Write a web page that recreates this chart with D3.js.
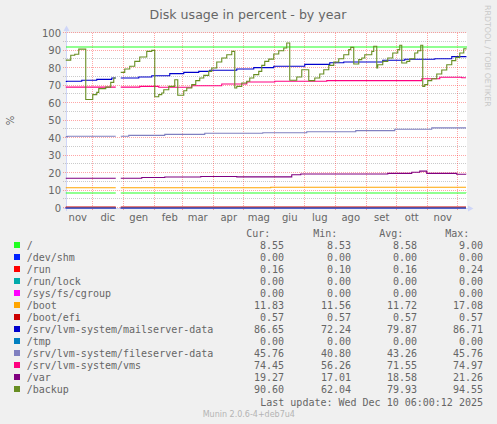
<!DOCTYPE html>
<html>
<head>
<meta charset="utf-8">
<script src="https://cdn.jsdelivr.net/npm/d3@7"></script>
<style>
  body { margin: 0; background: #f0f0f0; }
  svg { display: block; }
  text { fill: #666; }
</style>
</head>
<body>
<svg id="chart" width="497" height="424"></svg>
<script>
// graph window: 400 days ending at the last update
let rangeEnd = "2025-12-10 06:00"
let monthNames = ["gen", "feb", "mar", "apr", "mag", "giu", "lug", "ago", "set", "ott", "nov", "dic"]
let yTicks = [0, 10, 20, 30, 40, 50, 60, 70, 80, 90, 100]
let warningLevel = 92

let seriesNames = ["/", "/dev/shm", "/run", "/run/lock", "/sys/fs/cgroup", "/boot", "/boot/efi",
    "/srv/lvm-system/mailserver-data", "/tmp", "/srv/lvm-system/fileserver-data",
    "/srv/lvm-system/vms", "/var", "/backup"]
let curValues = [8.55, 0, 0.16, 0, 0, 11.83, 0.57, 86.65, 0, 45.76, 74.45, 19.27, 90.60]
let minValues = [8.53, 0, 0.10, 0, 0, 11.56, 0.57, 72.24, 0, 40.80, 56.26, 17.01, 62.04]
let avgValues = [8.58, 0, 0.16, 0, 0, 11.72, 0.57, 79.87, 0, 43.26, 71.55, 18.58, 79.93]
let maxValues = [9.00, 0, 0.24, 0, 0, 17.08, 0.57, 86.71, 0, 45.76, 74.97, 21.26, 94.55]

// munin palette
let seriesColors = ["#22ff22", "#0022ff", "#ff0000", "#00aaaa", "#ff00ff", "#ffa500", "#cc0000",
    "#0000cc", "#0080c0", "#8080c0", "#ff0080", "#800080", "#688e23"]

// [date, percent], null = no data
let rootPct = [["2024-11-05", 8.58], ["2024-12-25", 8.58], ["2024-12-26", null], ["2024-12-30", 8.56], ["2025-12-10 06:00", 8.55]]
let devShmPct = [["2024-11-05", 0], ["2024-12-25", 0], ["2024-12-26", null], ["2024-12-30", 0], ["2025-12-10 06:00", 0]]
let runPct = [["2024-11-05", 0.16], ["2024-12-25", 0.16], ["2024-12-26", null], ["2024-12-30", 0.16], ["2025-12-10 06:00", 0.16]]
let runLockPct = [["2024-11-05", 0], ["2024-12-25", 0], ["2024-12-26", null], ["2024-12-30", 0], ["2025-12-10 06:00", 0]]
let cgroupPct = [["2024-11-05", 0], ["2024-12-25", 0], ["2024-12-26", null], ["2024-12-30", 0], ["2025-12-10 06:00", 0]]
let bootPct = [["2024-11-05", 11.56], ["2024-12-25", 11.56], ["2024-12-26", null], ["2024-12-30", 11.56], ["2025-05-29", 11.83], ["2025-12-10 06:00", 11.83]]
let bootEfiPct = [["2024-11-05", 0.57], ["2024-12-25", 0.57], ["2024-12-26", null], ["2024-12-30", 0.57], ["2025-12-10 06:00", 0.57]]
let mailPct = [["2024-11-05", 72.3], ["2024-11-06", 72.4], ["2024-11-21", 73.0], ["2024-12-06", 73.5], ["2024-12-21", 74.3],
    ["2024-12-25", 74.3], ["2024-12-26", null], ["2024-12-30", 74.3], ["2025-01-17", 74.9], ["2025-01-30", 75.6],
    ["2025-02-17", 76.8], ["2025-03-03", 77.5], ["2025-03-18", 78.1], ["2025-03-29", 78.7], ["2025-04-25", 79.4],
    ["2025-05-12", 80.2], ["2025-06-01", 81.0], ["2025-07-02", 82.1], ["2025-07-27", 83.0], ["2025-08-10", 83.4],
    ["2025-09-18", 84.4], ["2025-10-10", 85.0], ["2025-11-09", 85.3], ["2025-11-26", 86.5], ["2025-12-10 06:00", 86.65]]
let tmpPct = [["2024-11-05", 0], ["2024-12-25", 0], ["2024-12-26", null], ["2024-12-30", 0], ["2025-12-10 06:00", 0]]
let filePct = [["2024-11-05", 40.8], ["2024-11-07", 41.0], ["2024-12-25", 41.0], ["2024-12-26", null], ["2024-12-30", 41.0],
    ["2025-01-07", 41.5], ["2025-02-12", 42.1], ["2025-03-24", 42.7], ["2025-05-21", 43.0], ["2025-07-04", 43.6],
    ["2025-08-22", 44.2], ["2025-09-30", 45.0], ["2025-11-06", 45.76], ["2025-12-10 06:00", 45.76]]
let vmsPct = [["2024-11-05", 69.1], ["2024-12-25", 69.1], ["2024-12-26", null], ["2024-12-30", 69.1], ["2025-01-18", 69.5],
    ["2025-02-06", 69.0], ["2025-03-11", 69.9], ["2025-04-10", 70.9], ["2025-05-05", 72.0], ["2025-06-02", 72.4],
    ["2025-07-24", 72.8], ["2025-10-27", 73.9], ["2025-11-14", 74.7], ["2025-12-06", 74.45], ["2025-12-10 06:00", 74.45]]
let varPct = [["2024-11-05", 17.0], ["2024-12-25", 17.0], ["2024-12-26", null], ["2024-12-30", 17.0], ["2025-01-20", 17.4],
    ["2025-02-12", 17.7], ["2025-03-20", 18.0], ["2025-04-25", 17.8], ["2025-06-19", 19.0], ["2025-06-28", 19.4],
    ["2025-09-23", 19.8], ["2025-10-17", 20.4], ["2025-10-25", 21.1], ["2025-11-01", 19.8], ["2025-12-01", 19.3],
    ["2025-12-10 06:00", 19.27]]
let backupPct = [["2024-11-05", 84.5], ["2024-11-10", 87.3], ["2024-11-14", 87.9], ["2024-11-18", 90.8], ["2024-11-25", 62.0],
    ["2024-12-02", 64.8], ["2024-12-06", 66.1], ["2024-12-08", 68.2], ["2024-12-15", 69.1], ["2024-12-20", 71.8],
    ["2024-12-23", 74.3], ["2024-12-25", 74.3], ["2024-12-26", null], ["2024-12-30", 77.5], ["2025-01-03", 79.4],
    ["2025-01-08", 81.0], ["2025-01-13", 83.8], ["2025-01-18", 86.3], ["2025-01-25", 89.5], ["2025-01-30", 90.1],
    ["2025-02-02", 63.6], ["2025-02-06", 64.8], ["2025-02-09", 65.7], ["2025-02-11", 67.6], ["2025-02-16", 69.5],
    ["2025-02-22", 73.3], ["2025-02-25", 64.4], ["2025-03-03", 67.0], ["2025-03-06", 68.6], ["2025-03-11", 70.5],
    ["2025-03-15", 72.8], ["2025-03-19", 74.3], ["2025-03-23", 75.8], ["2025-03-28", 78.1], ["2025-03-31", 80.0],
    ["2025-04-05", 83.4], ["2025-04-10", 85.7], ["2025-04-15", 87.6], ["2025-04-20", 89.5], ["2025-04-23", 68.6],
    ["2025-04-25", 69.5], ["2025-04-30", 71.4], ["2025-05-05", 72.4], ["2025-05-08", 74.3], ["2025-05-12", 76.2],
    ["2025-05-17", 78.1], ["2025-05-20", 81.5], ["2025-05-23", 83.8], ["2025-05-27", 85.1], ["2025-06-01", 88.0],
    ["2025-06-06", 89.9], ["2025-06-11", 91.4], ["2025-06-14", 94.3], ["2025-06-17", 73.0], ["2025-06-24", 74.9],
    ["2025-06-29", 79.0], ["2025-07-06", 72.8], ["2025-07-12", 74.3], ["2025-07-17", 76.6], ["2025-07-21", 79.0],
    ["2025-07-26", 81.5], ["2025-07-31", 83.4], ["2025-08-05", 85.3], ["2025-08-10", 87.6], ["2025-08-15", 90.5],
    ["2025-08-17", 91.8], ["2025-08-20", 82.3], ["2025-08-25", 84.8], ["2025-08-28", 85.7], ["2025-08-31", 87.6],
    ["2025-09-07", 89.5], ["2025-09-09", 92.4], ["2025-09-12", 80.0], ["2025-09-13", 81.9], ["2025-09-18", 83.8],
    ["2025-09-23", 85.7], ["2025-09-28", 88.6], ["2025-10-03", 90.5], ["2025-10-05", 93.0], ["2025-10-07", 82.9],
    ["2025-10-12", 83.8], ["2025-10-15", 85.3], ["2025-10-20", 88.6], ["2025-10-23", 89.9], ["2025-10-26", 93.0],
    ["2025-10-28", 69.5], ["2025-10-30", 70.5], ["2025-11-02", 72.8], ["2025-11-06", 73.9], ["2025-11-11", 76.6],
    ["2025-11-16", 78.9], ["2025-11-21", 81.9], ["2025-11-26", 84.2], ["2025-11-30", 86.1], ["2025-12-04", 88.6],
    ["2025-12-08", 91.0], ["2025-12-10 06:00", 90.6]]

let seriesData = [rootPct, devShmPct, runPct, runLockPct, cgroupPct, bootPct, bootEfiPct,
    mailPct, tmpPct, filePct, vmsPct, varPct, backupPct]

let parseDay = d3.timeParse("%Y-%m-%d")
let parseTime = d3.timeParse("%Y-%m-%d %H:%M")
let toDate = s => s.length > 10 ? parseTime(s) : parseDay(s)

let svg = d3.select("#chart")
let plot = { left: 66, right: 466, top: 33, bottom: 208 }
let end = toDate(rangeEnd)
let start = d3.timeDay.offset(end, -400)

let x = d3.scaleTime().domain([start, end]).range([plot.left, plot.right])
let y = d3.scaleLinear().domain([0, 100]).range([plot.bottom, plot.top])
let crisp = v => Math.round(v) + 0.5

svg.append("rect").attr("x", plot.left).attr("y", plot.top)
    .attr("width", plot.right - plot.left + 1).attr("height", plot.bottom - plot.top)
    .attr("fill", "#fff")

// minor horizontal grid (every 5) then major with labels
let gridG = svg.append("g").attr("shape-rendering", "crispEdges")
d3.range(5, 100, 10).forEach(v => {
    gridG.append("line").attr("x1", plot.left - 3).attr("x2", plot.right + 1)
        .attr("y1", crisp(y(v)) - 1).attr("y2", crisp(y(v)) - 1)
        .attr("stroke", "rgba(140,140,140,0.45)").attr("stroke-dasharray", "1,1")
})
yTicks.forEach(v => {
    gridG.append("line").attr("x1", plot.left - 3).attr("x2", plot.right + 1)
        .attr("y1", crisp(y(v)) - 1).attr("y2", crisp(y(v)) - 1)
        .attr("stroke", "rgba(255,0,0,0.35)").attr("stroke-dasharray", "1,1")
    svg.append("text").attr("x", 61).attr("y", y(v) + 3.6)
        .attr("text-anchor", "end").attr("font-family", "DejaVu Sans").attr("font-size", 10)
        .text(v)
})

// month grid and labels (label sits mid month)
d3.timeMonth.range(d3.timeMonth.ceil(start), end).forEach(m => {
    gridG.append("line").attr("x1", crisp(x(m))).attr("x2", crisp(x(m)))
        .attr("y1", plot.top).attr("y2", plot.bottom + 3)
        .attr("stroke", "rgba(255,0,0,0.35)").attr("stroke-dasharray", "1,1")
})
d3.timeMonth.range(d3.timeMonth.floor(start), end).forEach(m => {
    let mid = d3.timeDay.offset(m, 16)
    if (mid < start || mid > end) return
    svg.append("text").attr("x", x(mid)).attr("y", 220.5)
        .attr("text-anchor", "middle").attr("font-family", "DejaVu Sans").attr("font-size", 10)
        .text(monthNames[m.getMonth()])
})

// axes with arrows
let axisColor = "#cfd6f8"
svg.append("line").attr("x1", 66.5).attr("x2", 66.5).attr("y1", 211).attr("y2", 30)
    .attr("stroke", axisColor)
svg.append("path").attr("d", "M63.5,31L69.5,31L66.5,25.5Z").attr("fill", axisColor)
svg.append("line").attr("x1", 63).attr("x2", 469).attr("y1", 208.5).attr("y2", 208.5)
    .attr("stroke", axisColor)
svg.append("path").attr("d", "M468,205.5L468,211.5L473.5,208.5Z").attr("fill", axisColor)

// warning rule
svg.append("line").attr("x1", plot.left).attr("x2", plot.right + 1)
    .attr("y1", y(warningLevel)).attr("y2", y(warningLevel))
    .attr("stroke", seriesColors[0]).attr("stroke-width", 1.1)

let line = d3.line()
    .defined(d => d[1] != null)
    .x(d => x(toDate(d[0])))
    .y(d => y(d[1]))
    .curve(d3.curveStepAfter)

seriesData.forEach((data, i) => {
    svg.append("path").datum(data)
        .attr("d", line)
        .attr("fill", "none")
        .attr("stroke", seriesColors[i])
        .attr("stroke-width", 1.1)
})

// titles
svg.append("text").attr("x", 248).attr("y", 18.5).attr("text-anchor", "middle")
    .attr("font-family", "DejaVu Sans").attr("font-size", 12.6)
    .text("Disk usage in percent - by year")
svg.append("text").attr("transform", "translate(14,120.5) rotate(-90)")
    .attr("text-anchor", "middle").attr("font-family", "DejaVu Sans").attr("font-size", 10)
    .text("%")
svg.append("text").attr("transform", "translate(485,5) rotate(90)")
    .attr("font-family", "DejaVu Sans").attr("font-size", 7.9).style("fill", "#c8c8c8")
    .text("RRDTOOL / TOBI OETIKER")

// legend table
let fmt = d3.format(".2f")
let mono = "DejaVu Sans Mono"
let colEnds = [284, 351, 417, 483]
let headers = ["Cur:", "Min:", "Avg:", "Max:"]
headers.forEach((h, j) => {
    svg.append("text").attr("x", colEnds[j] - 13.7).attr("y", 237.3)
        .attr("text-anchor", "end").attr("font-family", mono).attr("font-size", 10)
        .text(h)
})
let legend = svg.selectAll("g.legend").data(seriesNames).enter().append("g")
    .attr("class", "legend")
    .attr("transform", (d, i) => `translate(0,${249 + i * 12})`)
legend.append("rect").attr("x", 14).attr("y", -7).attr("width", 6).attr("height", 6)
    .attr("fill", (d, i) => seriesColors[i])
legend.append("text").attr("x", 26.7).attr("font-family", mono).attr("font-size", 10)
    .text(d => d)
let cols = [curValues, minValues, avgValues, maxValues]
cols.forEach((vals, j) => {
    legend.append("text").attr("x", colEnds[j]).attr("text-anchor", "end")
        .attr("font-family", mono).attr("font-size", 10)
        .text((d, i) => fmt(vals[i]))
})
svg.append("text").attr("x", 483).attr("y", 405.6).attr("text-anchor", "end")
    .attr("font-family", mono).attr("font-size", 10)
    .text("Last update: Wed Dec 10 06:00:12 2025")
svg.append("text").attr("x", 248.8).attr("y", 416.5).attr("text-anchor", "middle")
    .attr("font-family", "DejaVu Sans").attr("font-size", 8).style("fill", "#b4b4b4")
    .text("Munin 2.0.6-4+deb7u4")
</script>
</body>
</html>
